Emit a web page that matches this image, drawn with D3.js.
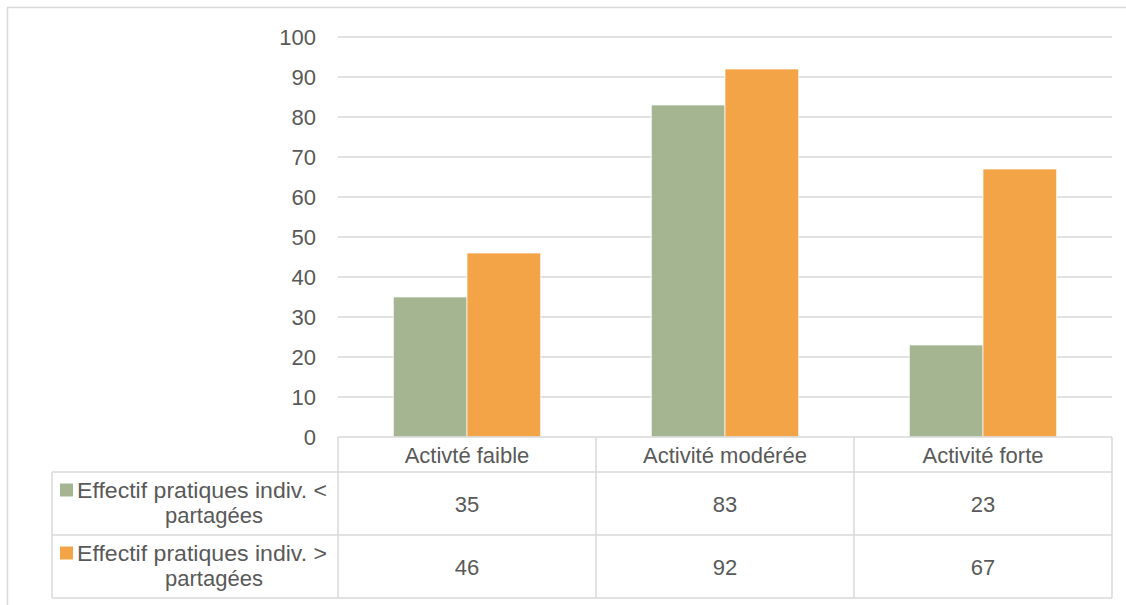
<!DOCTYPE html>
<html><head><meta charset="utf-8">
<script src="https://cdn.jsdelivr.net/npm/d3@7"></script>
<style>body{margin:0;background:#fff}svg{display:block}text{font-family:"Liberation Sans",Arial,sans-serif;fill:#595959}</style>
</head><body><svg id="c" width="1126" height="605"></svg>
<script>
const categories = ["Activté faible", "Activité modérée", "Activité forte"];
const seriesNames = ["Effectif pratiques indiv. < partagées", "Effectif pratiques indiv. > partagées"];
const seriesLow = [35, 83, 23];
const seriesHigh = [46, 92, 67];
const yTicks = [0, 10, 20, 30, 40, 50, 60, 70, 80, 90, 100];
const colors = ["#A5B592", "#F3A447"];

const svg = d3.select("#c");
const W = 1126, H = 605;
svg.append("rect").attr("x", 7.5).attr("y", 7.5).attr("width", W + 10).attr("height", H + 10)
  .attr("fill", "#fff").attr("stroke", "#D9D9D9").attr("stroke-width", 1.5);

const x0 = 338, x1 = 1112, yTop = 37, yBot = 437;
const x = d3.scaleBand().domain(categories).range([x0, x1]).paddingInner(0).paddingOuter(0);
const y = d3.scaleLinear().domain([0, 100]).range([yBot, yTop]);
const xs = d3.scaleBand().domain([0, 1]).range([0, x.bandwidth()]).paddingOuter(0.75).paddingInner(0);
const FS = 22;

// gridlines
svg.append("g").selectAll("line").data(yTicks.filter(d => d > 0)).join("line")
  .attr("x1", x0).attr("x2", x1).attr("y1", d => y(d)).attr("y2", d => y(d))
  .attr("stroke", "#D9D9D9").attr("stroke-width", 1.3);

// y labels
svg.append("g").selectAll("text").data(yTicks).join("text")
  .attr("x", 316).attr("y", d => y(d)).attr("dy", "0.36em").attr("text-anchor", "end")
  .attr("font-size", FS).text(d => d);

// bars
const series = [seriesLow, seriesHigh];
series.forEach((vals, si) => {
  svg.append("g").selectAll("rect").data(vals).join("rect")
    .attr("x", (d, i) => x(categories[i]) + xs(si))
    .attr("width", xs.bandwidth())
    .attr("y", d => y(d)).attr("height", d => yBot - y(d))
    .attr("fill", colors[si]).attr("stroke", "#fff").attr("stroke-width", 0.7);
});

// data table
const rowTops = [437, 472, 535, 598];
const tableLeft = 52;
const g = svg.append("g");
const lc = "#D9D9D9";
g.append("line").attr("x1", x0).attr("x2", x1).attr("y1", rowTops[0]).attr("y2", rowTops[0]).attr("stroke", lc).attr("stroke-width", 1.5);
[1, 2, 3].forEach(r => g.append("line").attr("x1", tableLeft).attr("x2", x1).attr("y1", rowTops[r]).attr("y2", rowTops[r]).attr("stroke", lc).attr("stroke-width", 1.5));
categories.forEach(c => g.append("line").attr("x1", x(c)).attr("x2", x(c)).attr("y1", rowTops[0]).attr("y2", rowTops[3]).attr("stroke", lc).attr("stroke-width", 1.5));
g.append("line").attr("x1", x1).attr("x2", x1).attr("y1", rowTops[0]).attr("y2", rowTops[3]).attr("stroke", lc).attr("stroke-width", 1.5);
g.append("line").attr("x1", tableLeft).attr("x2", tableLeft).attr("y1", rowTops[1]).attr("y2", rowTops[3]).attr("stroke", lc).attr("stroke-width", 1.5);

// header
g.selectAll("text.h").data(categories).join("text").attr("class", "h")
  .attr("x", d => x(d) + x.bandwidth() / 2).attr("y", (rowTops[0] + rowTops[1]) / 2 + 1)
  .attr("dy", "0.36em").attr("text-anchor", "middle").attr("font-size", FS).text(d => d);

series.forEach((vals, si) => {
  const yc = (rowTops[si + 1] + rowTops[si + 2]) / 2;
  g.selectAll("text.v" + si).data(vals).join("text").attr("class", "v" + si)
    .attr("x", (d, i) => x(categories[i]) + x.bandwidth() / 2).attr("y", yc + 1)
    .attr("dy", "0.36em").attr("text-anchor", "middle").attr("font-size", FS).text(d => d);
  g.append("rect").attr("x", 60).attr("y", yc - 20).attr("width", 13).attr("height", 13).attr("fill", colors[si]);
  const words = seriesNames[si].split(" ");
  const line1 = words.slice(0, -1).join(" "), line2 = words[words.length - 1];
  g.append("text").attr("x", 77).attr("y", yc - 13).attr("dy", "0.36em").attr("font-size", FS)
    .attr("textLength", 250).attr("lengthAdjust", "spacingAndGlyphs").text(line1);
  g.append("text").attr("x", 214).attr("y", yc + 12).attr("dy", "0.36em").attr("text-anchor", "middle").attr("font-size", FS).text(line2);
});
</script></body></html>
